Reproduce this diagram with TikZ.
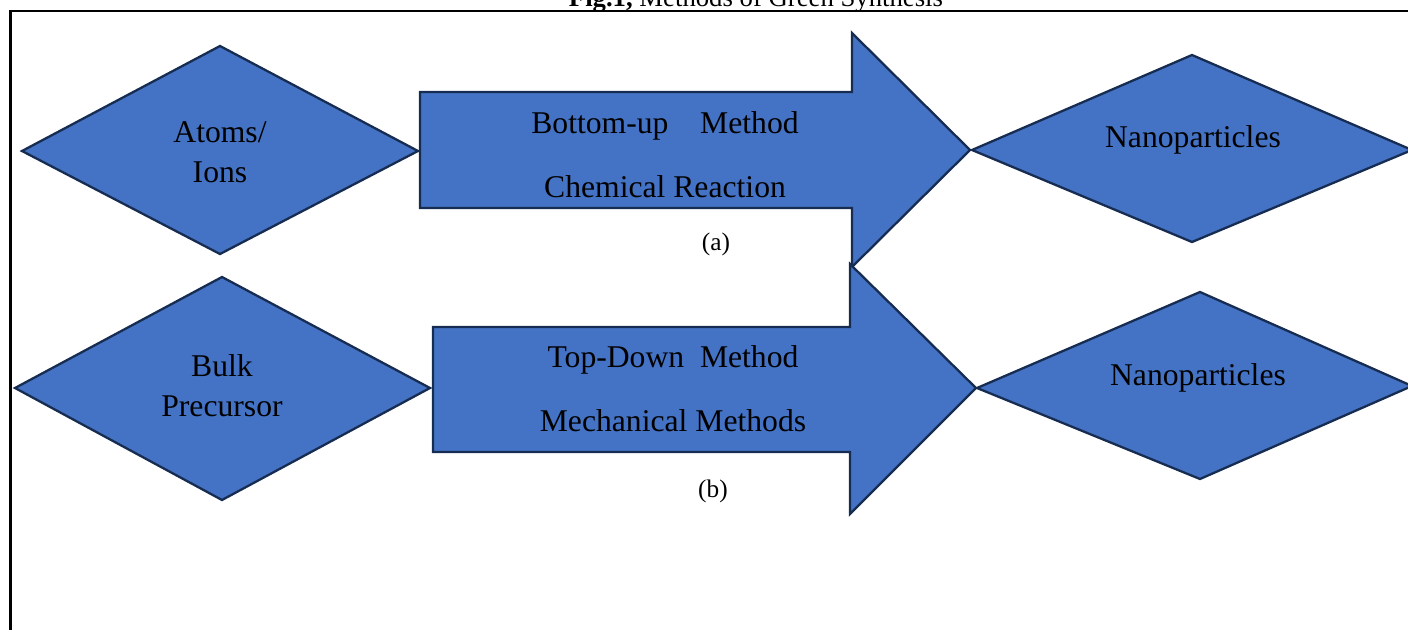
\documentclass[tikz,border=0pt]{standalone}
\usepackage{fontspec}
\setmainfont{Liberation Serif}
\definecolor{shapeblue}{HTML}{4472C4}
\definecolor{shapeedge}{HTML}{172C51}

\begin{document}
\begin{tikzpicture}[x=0.01cm,y=-0.01cm,
  blk/.style={fill=shapeblue,draw=shapeedge,line width=0.65pt,line join=miter},
  lbl/.style={font=\fontsize{9}{11.4}\selectfont,align=center,inner sep=0pt},
  tag/.style={font=\fontsize{7.2}{9}\selectfont,inner sep=0pt}]
  \useasboundingbox (0,0) rectangle (1408,630);
  % Title (cut by the page)
  \node[font=\fontsize{7.6}{9}\selectfont,anchor=base] (title) at (756,6)
    {\textbf{Fig.1,} Methods of Green Synthesis};
  % Frame
  \draw[line width=0.6pt] (10.5,700) -- (10.5,11) -- (1450,11);
  % Row (a): bottom-up
  \draw[blk] (22,151) -- (220,46) -- (418,151) -- (220,254) -- cycle;
  \draw[blk] (420,92) -- (852,92) -- (852,33) -- (970,150) -- (852,267)
    -- (852,208) -- (420,208) -- cycle;
  \draw[blk] (972,150) -- (1192,55) -- (1412,150) -- (1192,242) -- cycle;
  % Row (b): top-down
  \draw[blk] (15,388) -- (222,277) -- (430,388) -- (222,500) -- cycle;
  \draw[blk] (433,327) -- (850,327) -- (850,264) -- (976,388) -- (850,514)
    -- (850,452) -- (433,452) -- cycle;
  \draw[blk] (977,388) -- (1200,292) -- (1412,386) -- (1200,479) -- cycle;
  % Labels
  \node[lbl] (atoms) at (220,152) {Atoms/\\Ions};
  \node[lbl] (bottomup) at (665,126) {Bottom-up\quad Method};
  \node[lbl] (chemical) at (665,187) {Chemical Reaction};
  \node[tag] (taga) at (716,244) {(a)};
  \node[lbl] (nanoa) at (1193,140) {Nanoparticles};
  \node[lbl] (bulk) at (222,386) {Bulk\\Precursor};
  \node[lbl] (topdown) at (673,360) {Top-Down~~Method};
  \node[lbl] (mechanical) at (673,421) {Mechanical Methods};
  \node[tag] (tagb) at (713,491) {(b)};
  \node[lbl] (nanob) at (1198,378) {Nanoparticles};
\end{tikzpicture}
\end{document}
